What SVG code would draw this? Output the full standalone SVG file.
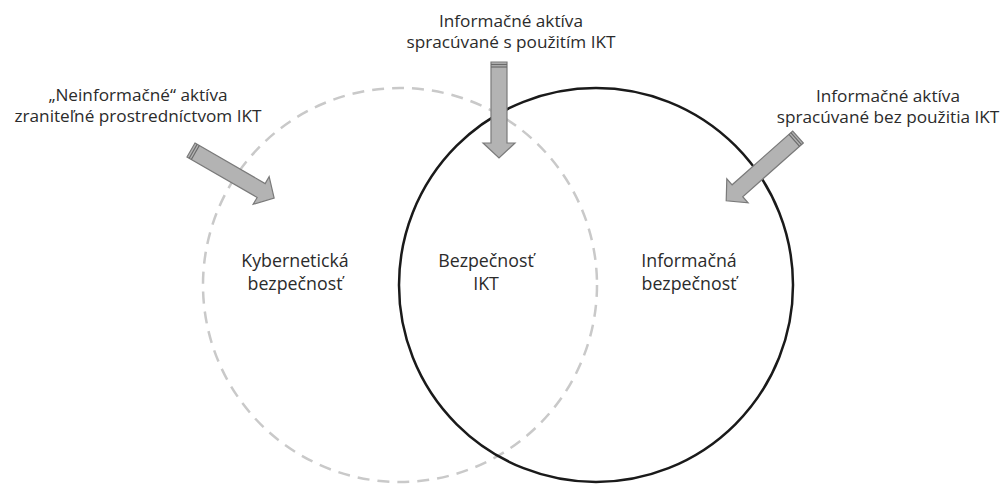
<svg xmlns="http://www.w3.org/2000/svg" width="1006" height="484" viewBox="0 0 1006 484">
<style>
.lbl{font-family:"Open Sans","Noto Sans",sans-serif;font-size:17.2px;fill:#2b2b2b;text-anchor:middle}
.big{font-size:17.8px}
.arrow{fill:#b3b3b3;stroke:#7a7a7a;stroke-width:1.2}
.cap{stroke:#6a6a6a;stroke-width:1.2}
</style>
<defs>
<g id="blockArrow">
<path class="arrow" d="M0,-8 L81,-8 L81,-16 L96,0 L81,16 L81,8 L0,8 Z"/>
<line class="cap" x1="2.5" y1="-8" x2="2.5" y2="8"/>
<line class="cap" x1="5" y1="-8" x2="5" y2="8"/>
</g>
</defs>
<rect width="1006" height="484" fill="#ffffff"/>
<g id="cyber-circle">
<circle cx="400" cy="285" r="197" fill="none" stroke="#c9c9c9" stroke-width="2.5" stroke-dasharray="12 8"/>
</g>
<g id="info-circle">
<circle cx="596" cy="285" r="197" fill="none" stroke="#1a1a1a" stroke-width="2.5"/>
</g>
<g id="connectors">
<use href="#blockArrow" transform="translate(191,150) rotate(30)"/>
<use href="#blockArrow" transform="translate(499,62) rotate(90)"/>
<use href="#blockArrow" transform="translate(798,137) rotate(138.4)"/>
</g>
<g id="label-left">
<text class="lbl" x="138" y="101">„Neinformačné“ aktíva</text>
<text class="lbl" x="138" y="122">zraniteľné prostredníctvom IKT</text>
</g>
<g id="label-top">
<text class="lbl" x="511" y="27">Informačné aktíva</text>
<text class="lbl" x="511" y="48">spracúvané s použitím IKT</text>
</g>
<g id="label-right">
<text class="lbl" x="888" y="102">Informačné aktíva</text>
<text class="lbl" x="888" y="123">spracúvané bez použitia IKT</text>
</g>
<g id="node-cyber">
<text class="lbl big" x="295" y="267">Kybernetická</text>
<text class="lbl big" x="295" y="290">bezpečnosť</text>
</g>
<g id="node-ikt">
<text class="lbl big" x="486" y="267">Bezpečnosť</text>
<text class="lbl big" x="486" y="290">IKT</text>
</g>
<g id="node-info">
<text class="lbl big" x="689" y="267">Informačná</text>
<text class="lbl big" x="689" y="290">bezpečnosť</text>
</g>
</svg>
